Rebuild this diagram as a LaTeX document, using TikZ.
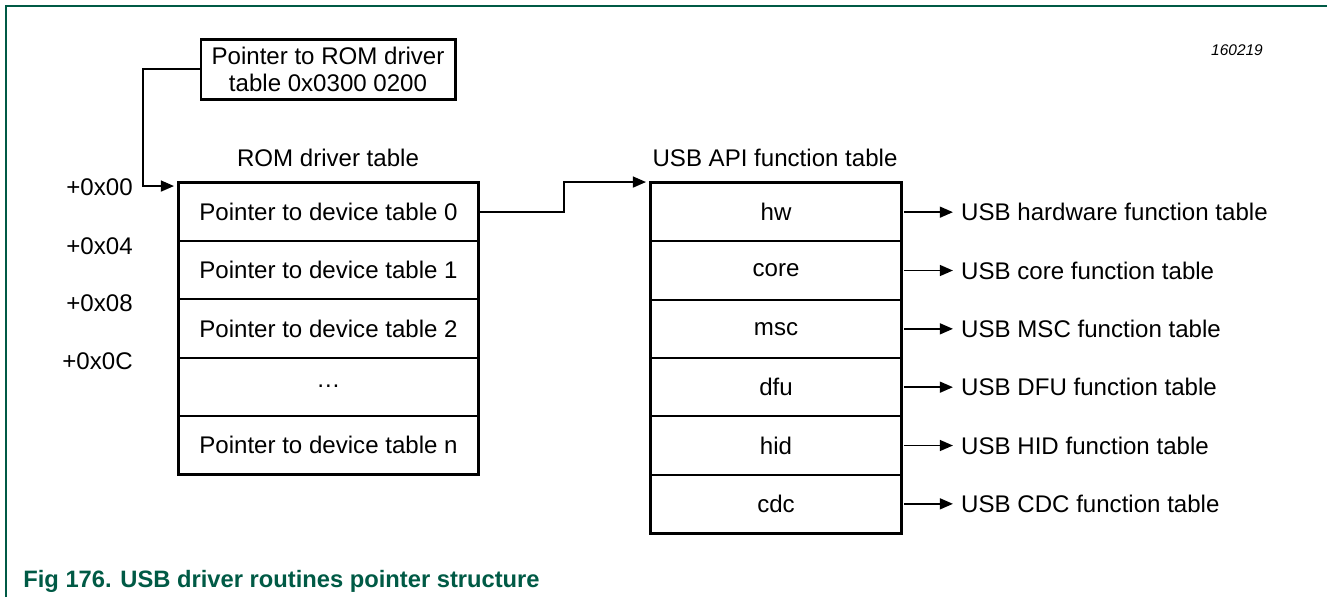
\documentclass[tikz,border=0pt]{standalone}
\usepackage{fontspec}
\setmainfont{Liberation Sans}
\usetikzlibrary{positioning,arrows.meta}
\definecolor{nxpgreen}{HTML}{005A45}
\newcommand{\mainsz}{\fontsize{13.7}{15.4}\selectfont}

\begin{document}
\begin{tikzpicture}[txt/.style={font=\mainsz},
                    romcell/.style={draw, line width=1.1pt, minimum width=5.98cm,
                    minimum height=1.164cm, inner sep=0pt, txt},
                    apicell/.style={draw, line width=1.1pt, minimum width=5.0cm,
                    minimum height=1.1667cm, inner sep=0pt, txt},
                    fnlabel/.style={txt, inner sep=4.5pt, right=1.02cm of #1},
                    ptr/.style={line width=1.1pt, -{Triangle[length=7.5pt,width=6.2pt]}}]
\useasboundingbox (0,0) rectangle (26.54,-11.94);
\draw[nxpgreen, line width=1.1pt] (0.12,-11.94) -- (0.12,-0.12) -- (26.54,-0.12);
\node[font=\fontsize{8.8}{10}\selectfont\itshape] (figid) at (24.74,-1.0) {160219};
\node[draw, line width=1.7pt, minimum width=5.08cm, minimum height=1.2cm, inner sep=0pt,
      align=center, txt] (romptr) at (6.56,-1.38) {Pointer to ROM driver\\table 0x0300 0200};
\node[txt] (romtitle) at (6.56,-3.16) {ROM driver table};
\node[txt] (apititle) at (15.5,-3.16) {USB API function table};
\node[txt, anchor=east, inner sep=0pt] (off0) at (2.66,-3.74) {+0x00};
\node[txt, anchor=east, inner sep=0pt] (off1) at (2.66,-4.92) {+0x04};
\node[txt, anchor=east, inner sep=0pt] (off2) at (2.66,-6.06) {+0x08};
\node[txt, anchor=east, inner sep=0pt] (off3) at (2.66,-7.22) {+0x0C};
\node[romcell] (rom0) at (6.57,-4.242) {Pointer to device table 0};
\node[romcell] (rom1) at (6.57,-5.406) {Pointer to device table 1};
\node[romcell] (rom2) at (6.57,-6.570) {Pointer to device table 2};
\node[romcell] (rom3) at (6.57,-7.734) {…};
\node[romcell] (rom4) at (6.57,-8.898) {Pointer to device table n};
\draw[line width=1.7pt] (rom0.north west) rectangle (rom4.south east);
\node[apicell] (api0) at (15.52,-4.2433) {hw};
\node[apicell] (api1) at (15.52,-5.4100) {core};
\node[apicell] (api2) at (15.52,-6.5767) {msc};
\node[apicell] (api3) at (15.52,-7.7433) {dfu};
\node[apicell] (api4) at (15.52,-8.9100) {hid};
\node[apicell] (api5) at (15.52,-10.0767) {cdc};
\draw[line width=1.7pt] (api0.north west) rectangle (api5.south east);
\node[fnlabel=api0, anchor=west] (fn0) {USB hardware function table};
\node[fnlabel=api1, anchor=west] (fn1) {USB core function table};
\node[fnlabel=api2, anchor=west] (fn2) {USB MSC function table};
\node[fnlabel=api3, anchor=west] (fn3) {USB DFU function table};
\node[fnlabel=api4, anchor=west] (fn4) {USB HID function table};
\node[fnlabel=api5, anchor=west] (fn5) {USB CDC function table};
% pointers
\coordinate (romin) at ([xshift=-0.08cm,yshift=-0.08cm]rom0.north west);
\coordinate (apiin) at ([xshift=-0.08cm]api0.north west);
\draw[ptr] (romptr.west) -| ([xshift=-0.62cm]romin) -- (romin);
\draw[ptr] (rom0.east) -- ++(1.7,0) |- (apiin);
\draw[ptr] ([xshift=0.04cm]api0.east) -- (fn0.west);
\draw[ptr] ([xshift=0.04cm]api1.east) -- (fn1.west);
\draw[ptr] ([xshift=0.04cm]api2.east) -- (fn2.west);
\draw[ptr] ([xshift=0.04cm]api3.east) -- (fn3.west);
\draw[ptr] ([xshift=0.04cm]api4.east) -- (fn4.west);
\draw[ptr] ([xshift=0.04cm]api5.east) -- (fn5.west);
\node[anchor=base west, inner sep=0pt, text=nxpgreen,
      font=\bfseries\fontsize{13.5}{15}\selectfont] (caption) at (0.46,-11.74)
      {Fig 176. USB driver routines pointer structure};
\end{tikzpicture}
\end{document}
